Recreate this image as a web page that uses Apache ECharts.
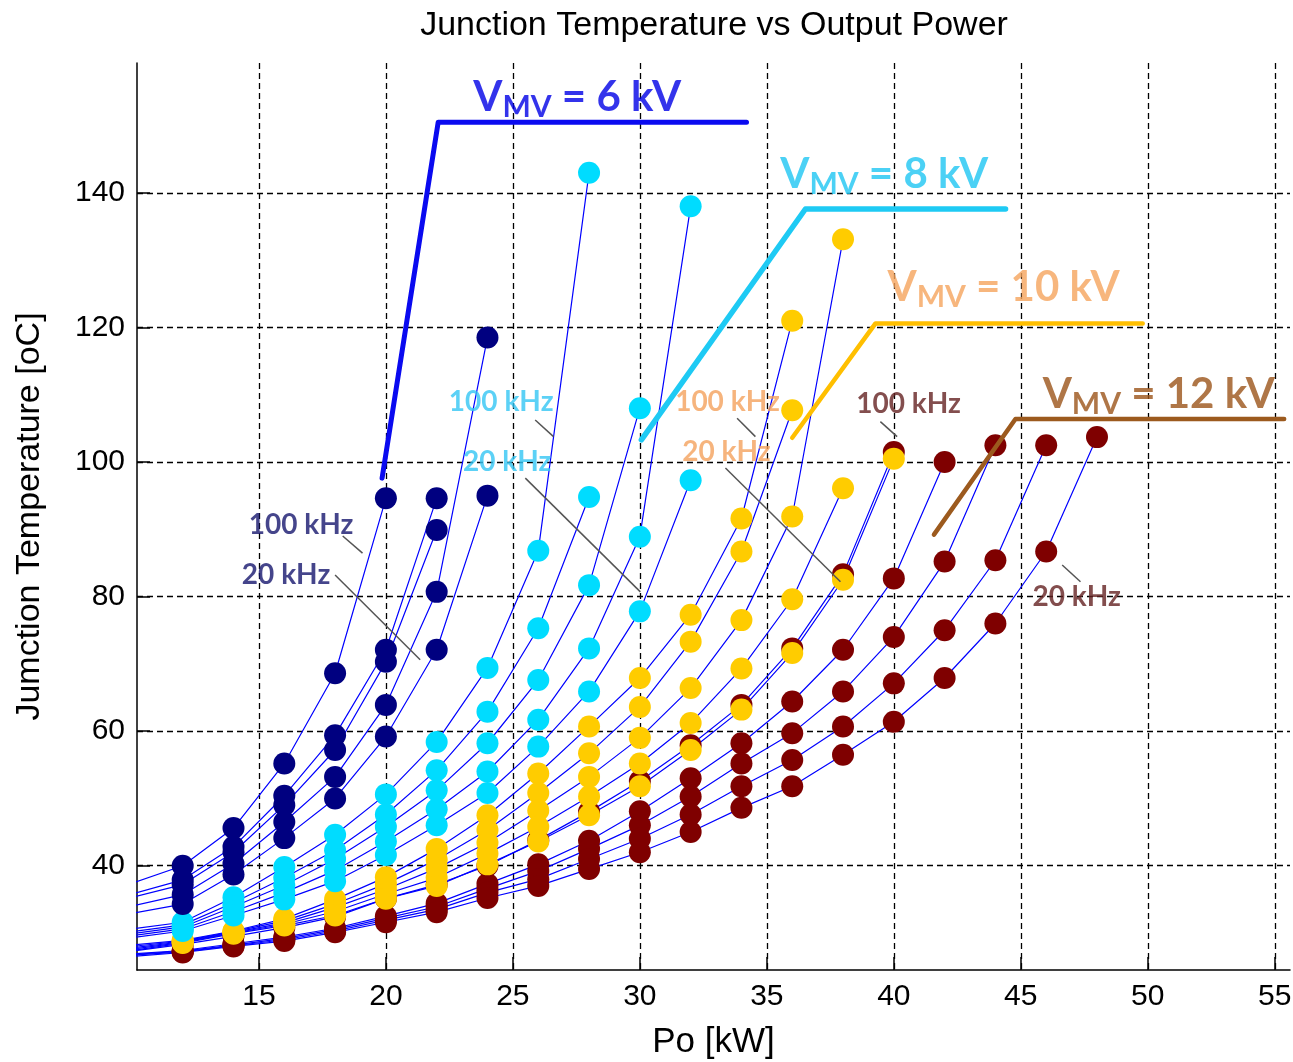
<!DOCTYPE html>
<html>
<head>
<meta charset="utf-8">
<script src="https://cdn.jsdelivr.net/npm/echarts@6/dist/echarts.min.js"></script>
<style>
  html, body { margin: 0; padding: 0; background: #fff; }
  #chart { width: 1293px; height: 1062px; }
</style>
</head>
<body>
<div id="chart"></div>
<script>
// Output power steps (kW) per MV voltage level; the first step lies just left of the plot window
const po6  = [10, 12, 14, 16, 18, 20, 22, 24];
const po8  = [10, 12, 14, 16, 18, 20, 22, 24, 26, 28, 30, 32];
const po10 = [10, 12, 14, 16, 18, 20, 22, 24, 26, 28, 30, 32, 34, 36, 38, 40];
const po12 = [10, 12, 14, 16, 18, 20, 22, 24, 26, 28, 30, 32, 34, 36, 38, 40, 42, 44, 46, 48];

// Junction temperature (oC), one curve per switching frequency: 100, 80, 60, 40, 20 kHz
const tj6_100 = [37.4, 40.0, 45.6, 55.2, 68.6, 94.6];
const tj6_80  = [35.8, 37.9, 42.8, 50.4, 59.4, 72.1, 94.6];
const tj6_60  = [35.3, 37.2, 42.0, 49.0, 57.2, 70.3, 89.9];
const tj6_40  = [34.0, 35.7, 40.3, 46.5, 53.2, 63.9, 80.7, 118.5];
const tj6_20  = [32.9, 34.3, 38.7, 44.1, 50.0, 59.2, 72.1, 95.0];

const tj8_100 = [30.6, 31.6, 35.3, 39.8, 44.6, 50.6, 58.4, 69.4, 86.8, 143.0];
const tj8_80  = [30.2, 31.2, 34.5, 38.2, 42.3, 47.6, 54.2, 62.9, 75.3, 94.8];
const tj8_60  = [29.9, 30.9, 33.9, 37.1, 41.0, 45.8, 51.2, 58.2, 67.6, 81.7, 108.0];
const tj8_40  = [29.6, 30.6, 33.2, 36.0, 39.3, 43.6, 48.4, 54.0, 61.7, 72.3, 88.9, 138.0];
const tj8_20  = [29.3, 30.3, 32.6, 35.0, 37.7, 41.6, 46.0, 50.8, 57.7, 65.9, 77.8, 97.3];

const tj10_100 = [28.2, 28.9, 30.3, 32.1, 35.0, 38.3, 42.5, 47.5, 53.7, 60.7, 67.9, 77.3, 91.6, 121.0];
const tj10_80  = [28.0, 28.8, 30.2, 31.8, 34.3, 37.3, 40.9, 45.3, 50.8, 56.7, 63.6, 73.3, 86.7, 107.7];
const tj10_60  = [27.8, 28.7, 30.1, 31.5, 33.8, 36.5, 39.6, 43.4, 48.2, 53.2, 59.0, 66.4, 76.5, 91.9, 133.1];
const tj10_40  = [27.6, 28.6, 30.0, 31.3, 33.2, 35.8, 38.2, 41.8, 45.8, 50.3, 55.2, 61.2, 69.3, 79.6, 96.1];
const tj10_20  = [27.4, 28.5, 29.9, 31.1, 32.6, 35.1, 37.0, 40.2, 43.6, 47.5, 51.8, 57.2, 63.2, 71.6, 82.5, 100.5];

const tj12_100 = [27.3, 28.3, 29.5, 30.8, 32.4, 35.1, 37.2, 40.0, 43.8, 48.0, 52.6, 57.9, 63.9, 72.3, 83.3, 101.5];
const tj12_80  = [26.9, 27.4, 28.4, 29.4, 30.7, 32.5, 34.4, 37.3, 40.2, 43.7, 48.1, 53.0, 58.2, 64.4, 72.1, 82.7, 100.0];
const tj12_60  = [26.8, 27.3, 28.2, 29.2, 30.5, 32.2, 33.9, 36.6, 39.2, 42.5, 46.0, 50.3, 55.2, 59.7, 65.9, 74.0, 85.2, 102.5];
const tj12_40  = [26.7, 27.2, 28.1, 29.0, 30.3, 31.9, 33.5, 36.0, 38.0, 41.0, 44.0, 47.6, 51.8, 55.7, 60.7, 67.1, 75.0, 85.4, 102.5];
const tj12_20  = [26.5, 27.1, 28.0, 28.8, 30.1, 31.6, 33.1, 35.2, 37.0, 39.5, 42.0, 45.0, 48.6, 51.8, 56.5, 61.4, 67.9, 76.0, 86.7, 103.7];

// Axis ticks
const xTicks = [15, 20, 25, 30, 35, 40, 45, 50, 55];
const yTicks = [40, 60, 80, 100, 120, 140];
const X_MIN = 10.2, X_MAX = 55.6, Y_MIN = 24.5, Y_MAX = 159.3;

// Operating-limit outlines and their captions (data units)
const limit6  = [[19.85, 97.6], [22.06, 150.5], [34.2, 150.5]];
const limit8  = [[30.06, 103.3], [36.52, 137.6], [44.4, 137.6]];
const limit10 = [[36.0, 103.6], [39.28, 120.6], [49.8, 120.6]];
const limit12 = [[41.58, 89.2], [44.79, 106.4], [55.37, 106.4]];
const limitCaptions = [
  { kv: '6',  at: [23.44, 154.2], color: '#0000e6' },
  { kv: '8',  at: [35.53, 142.8], color: '#1ec6f2' },
  { kv: '10', at: [39.75, 126.0], color: '#f5a45c' },
  { kv: '12', at: [45.86, 110.1], color: '#9b5419' }
];

// Frequency tags with leader lines
const freqTags = [
  { text: '100 kHz', at: [16.66, 90.6],  color: '#16166e', lead: [[18.30, 89.0], [19.08, 86.45]] },
  { text: '20 kHz',  at: [16.07, 83.2],  color: '#16166e', lead: [[18.00, 83.2], [21.35, 70.6]] },
  { text: '100 kHz', at: [24.54, 108.9], color: '#33c6f4', lead: [[25.88, 106.25], [26.60, 103.77]] },
  { text: '20 kHz',  at: [24.78, 100.0], color: '#33c6f4', lead: [[25.49, 97.6], [30.02, 80.7]] },
  { text: '100 kHz', at: [33.45, 108.9], color: '#f4a15c', lead: [[33.83, 106.5], [34.55, 103.77]] },
  { text: '20 kHz',  at: [33.41, 101.5], color: '#f4a15c', lead: [[33.37, 99.1], [37.90, 82.2]] },
  { text: '100 kHz', at: [40.58, 108.6], color: '#642222', lead: [[39.47, 106.0], [40.13, 103.77]] },
  { text: '20 kHz',  at: [47.20, 79.95], color: '#642222', lead: [[46.63, 84.7], [47.35, 82.2]] }
];

const groups = [
  { po: po12, curves: [tj12_100, tj12_80, tj12_60, tj12_40, tj12_20], color: '#7f0000' },
  { po: po10, curves: [tj10_100, tj10_80, tj10_60, tj10_40, tj10_20], color: '#ffcc00' },
  { po: po8,  curves: [tj8_100, tj8_80, tj8_60, tj8_40, tj8_20],      color: '#00dcff' },
  { po: po6,  curves: [tj6_100, tj6_80, tj6_60, tj6_40, tj6_20],      color: '#000080' }
];

function pairs(xs, ys) { return ys.map((y, i) => [xs[i], y]); }

const series = [];

// thin blue curves underneath everything
groups.forEach(g => {
  g.curves.forEach(c => {
    series.push({
      type: 'line', data: pairs(g.po, c), symbol: 'none', silent: true,
      lineStyle: { color: '#0000ff', width: 1.2 }, z: 2, animation: false
    });
  });
});

// filled circle markers, one series per voltage level (12 kV at the bottom, 6 kV on top)
groups.forEach((g, k) => {
  const pts = [];
  g.curves.forEach(c => pairs(g.po, c).forEach(p => { if (p[0] >= X_MIN) pts.push(p); }));
  series.push({
    type: 'scatter', data: pts, symbol: 'circle', symbolSize: 22, silent: true,
    itemStyle: { color: g.color, opacity: 1 }, z: 3 + k, animation: false
  });
});

// limit outlines
[[limit6, '#0a0af0', 5], [limit8, '#1ecaf4', 5.5], [limit10, '#ffbf00', 4.5], [limit12, '#9c5a1e', 4.5]]
  .forEach(([d, col, w]) => {
    series.push({
      type: 'line', data: d, symbol: 'none', silent: true,
      lineStyle: { color: col, width: w, cap: 'round', join: 'round' }, z: 9, animation: false
    });
  });

// limit captions  V_MV = x kV
limitCaptions.forEach(c => {
  series.push({
    type: 'scatter', data: [c.at], symbolSize: 0, silent: true, z: 10, animation: false,
    label: {
      show: true, position: 'right', distance: 0,
      formatter: '{v|V}{s|MV}{v| = ' + c.kv + ' kV}',
      rich: {
        v: { fontFamily: 'Lato', fontWeight: 'bold', fontSize: 42, color: c.color, lineHeight: 50, verticalAlign: 'middle' },
        s: { fontFamily: 'Lato', fontWeight: 'bold', fontSize: 30, color: c.color, lineHeight: 30, verticalAlign: 'bottom' }
      }
    }
  });
});

// frequency tags and their leader lines
freqTags.forEach(t => {
  series.push({
    type: 'line', data: t.lead, symbol: 'none', silent: true,
    lineStyle: { color: '#555555', width: 1.5 }, z: 8, animation: false
  });
  series.push({
    type: 'scatter', data: [t.at], symbolSize: 0, silent: true, z: 10, animation: false,
    label: {
      show: true, position: 'inside', formatter: t.text,
      fontFamily: 'Lato', fontWeight: 'bold', fontSize: 28, color: t.color
    }
  });
});

const axisFont = 'Liberation Sans';

const option = {
  animation: false,
  backgroundColor: '#ffffff',
  textStyle: { fontFamily: axisFont },
  title: {
    text: 'Junction Temperature vs Output Power',
    left: 709, textAlign: 'center', top: 4,
    textStyle: { fontFamily: axisFont, fontSize: 34, fontWeight: 'normal', color: '#000' }
  },
  grid: { left: 137, right: 3, top: 63, bottom: 92, containLabel: false, outerBoundsMode: 'none' },
  xAxis: {
    type: 'value', min: X_MIN, max: X_MAX,
    name: 'Po [kW]', nameLocation: 'middle', nameGap: 55,
    nameTextStyle: { fontFamily: axisFont, fontSize: 35, color: '#000' },
    axisLine: { show: true, onZero: false, lineStyle: { color: '#000', width: 1.5 } },
    axisTick: { show: true, inside: true, length: 13, customValues: xTicks, lineStyle: { color: '#000', width: 1.5 } },
    axisLabel: { customValues: xTicks, fontFamily: axisFont, fontSize: 30, color: '#000', margin: 12 },
    splitLine: { show: true, lineStyle: { color: '#000', width: 1.3, type: [6, 4] } }
  },
  yAxis: {
    type: 'value', min: Y_MIN, max: Y_MAX,
    name: 'Jumction Temperature [oC]', nameLocation: 'middle', nameGap: 90, nameRotate: 90,
    nameTextStyle: { fontFamily: axisFont, fontSize: 34, color: '#000' },
    axisLine: { show: true, onZero: false, lineStyle: { color: '#000', width: 1.5 } },
    axisTick: { show: true, inside: true, length: 13, customValues: yTicks, lineStyle: { color: '#000', width: 1.5 } },
    axisLabel: { customValues: yTicks, fontFamily: axisFont, fontSize: 30, color: '#000', margin: 12 },
    splitLine: { show: true, lineStyle: { color: '#000', width: 1.3, type: [6, 4] } }
  },
  series: series
};

const chart = echarts.init(document.getElementById('chart'), null, { renderer: 'canvas' });
chart.setOption(option);
</script>
</body>
</html>
